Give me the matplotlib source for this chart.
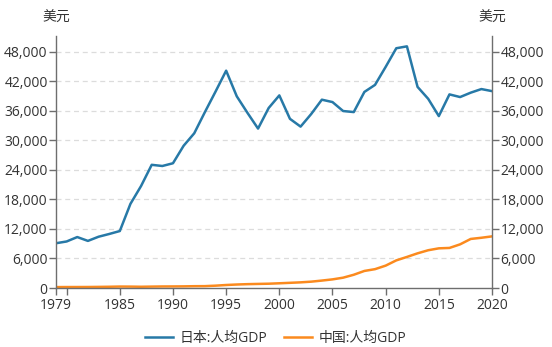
import numpy as np
import matplotlib
matplotlib.use("Agg")
import matplotlib.pyplot as plt
from matplotlib.ticker import FuncFormatter

plt.rcParams['font.family'] = ['Open Sans', 'Noto Sans CJK SC', 'DejaVu Sans']

years = list(range(1979, 2021))
japan = [9103, 9463, 10361, 9578, 10425, 10984, 11585, 17112, 20745, 25052,
         24813, 25371, 28925, 31465, 35766, 39934, 44198, 38982, 35635, 32423,
         36610, 39169, 34406, 32821, 35387, 38299, 37813, 35991, 35779, 39876,
         41309, 44968, 48760, 49145, 40898, 38475, 34961, 39375, 38834, 39727,
         40458, 40040]
china = [183, 195, 197, 203, 225, 251, 294, 282, 252, 284,
         311, 318, 333, 366, 377, 473, 610, 709, 782, 829,
         873, 959, 1053, 1149, 1289, 1509, 1753, 2099, 2694, 3468,
         3832, 4550, 5618, 6317, 7051, 7679, 8067, 8148, 8879, 9977,
         10217, 10500]
series_names = ['日本:人均GDP', '中国:人均GDP']
y_ticks = [0, 6000, 12000, 18000, 24000, 30000, 36000, 42000, 48000]
x_ticks = [1979, 1980, 1985, 1990, 1995, 2000, 2005, 2010, 2015, 2020]
x_labels = ['1979', '', '1985', '1990', '1995', '2000', '2005', '2010', '2015', '2020']

blue = '#2779a7'
orange = '#fb8a1e'
axis_col = '#6e6e6e'
text_col = '#333333'

fig = plt.figure(figsize=(5.52, 3.47), dpi=100)
ax = fig.add_axes([56/552, 1-288/347, (492-56)/552, (288-36)/347])

ax.plot(years, japan, color=blue, lw=1.8, label=series_names[0], solid_joinstyle='round')
ax.plot(years, china, color=orange, lw=1.8, label=series_names[1], solid_joinstyle='round')

ax.set_xlim(1979, 2020)
ax.set_ylim(0, 51250)
ax.set_yticks(y_ticks)
ax.set_xticks(x_ticks)
ax.set_xticklabels(x_labels)
fmt = FuncFormatter(lambda v, p: '{:,.0f}'.format(v))
ax.yaxis.set_major_formatter(fmt)

for y in y_ticks[1:]:
    ax.axhline(y, color='#dcdcdc', lw=0.9, ls=(0, (4, 3)), zorder=0)

ax.spines['top'].set_visible(False)
for s in ['left', 'right', 'bottom']:
    ax.spines[s].set_color(axis_col)
    ax.spines[s].set_linewidth(1)

ax.tick_params(axis='both', colors=axis_col, labelcolor=text_col, labelsize=10,
               length=5, width=1)
ax.tick_params(axis='y', left=True, right=True, labelleft=True, labelright=True, pad=1)
ax.tick_params(axis='x', pad=2)

fig.text(56/552, 1-18/347, '美元', ha='center', va='center', fontsize=10, color=text_col)
fig.text(492/552, 1-18/347, '美元', ha='center', va='center', fontsize=10, color=text_col)

fig.legend(loc='center', bbox_to_anchor=(276/552, 1-338/347), ncol=2, frameon=False,
           fontsize=10, handlelength=2.0, columnspacing=1.2, handletextpad=0.5,
           labelcolor=text_col)

fig.savefig('out.png', dpi=100)
